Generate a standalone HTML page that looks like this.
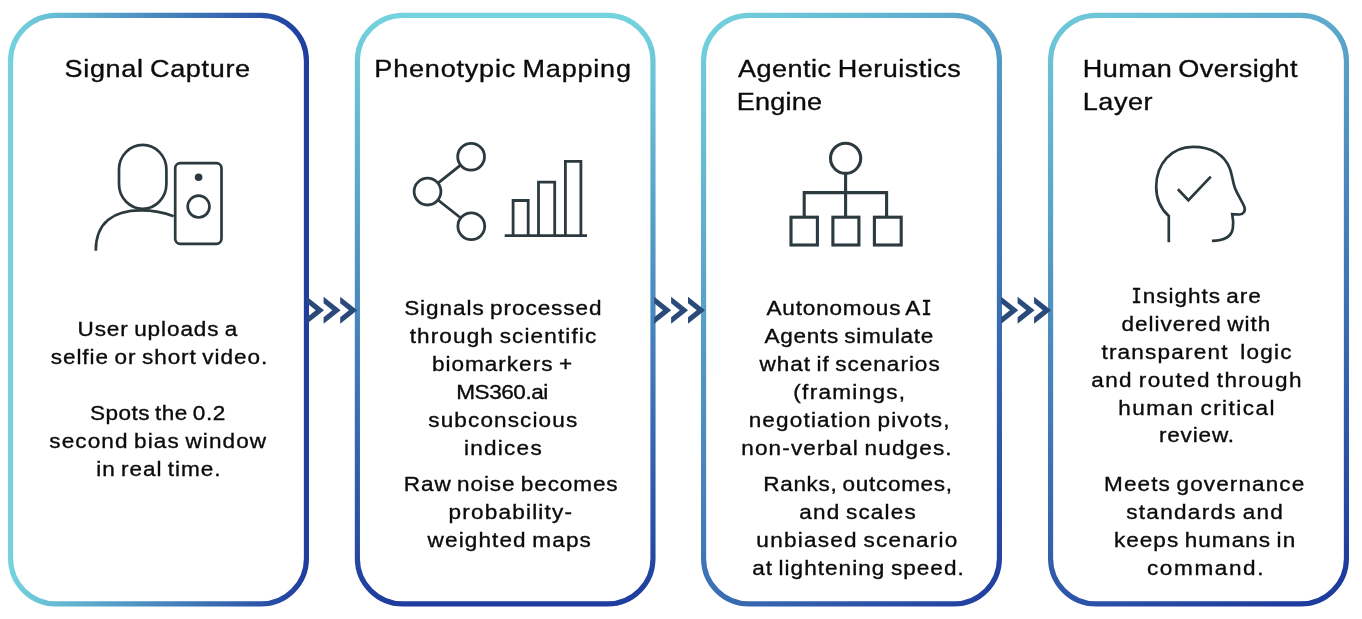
<!DOCTYPE html>
<html lang="en">
<head>
<meta charset="utf-8">
<title>Signal Capture to Human Oversight pipeline</title>
<style>
html,body{margin:0;padding:0;background:#fff;}
body{width:1362px;height:619px;position:relative;overflow:hidden;font-family:"Liberation Sans",sans-serif;color:#0b0b0b;}
svg{position:absolute;left:0;top:0;}
section,h2,p{display:block;margin:0;padding:0;font:inherit;}
#txt{position:absolute;left:0;top:0;width:1362px;height:619px;will-change:transform;}
.t,.b{position:absolute;left:0;top:0;white-space:pre;line-height:1;transform-origin:0 0;word-spacing:-1.6px;-webkit-text-stroke:0.35px #0b0b0b;}
.t{font-size:24.6px;}
.b{font-size:20.5px;}
i{font-style:normal;font-family:"Liberation Mono",monospace;display:inline-block;transform:scale(.75,1.09);transform-origin:0 16px;margin:0 -2.65px 0 -0.2px;-webkit-text-stroke:0.6px #0b0b0b;}
</style>
</head>
<body>
<svg width="1362" height="619" viewBox="0 0 1362 619" fill="none" stroke="#2c3a40" stroke-width="2.4" stroke-linecap="butt" stroke-linejoin="round">
<defs><linearGradient id="g0" gradientUnits="userSpaceOnUse" x1="8.00" y1="309.62" x2="309.00" y2="309.62"><stop offset="0" stop-color="#74d4de"/><stop offset="1" stop-color="#1e3c9e"/></linearGradient><linearGradient id="g1" gradientUnits="userSpaceOnUse" x1="505.17" y1="12.75" x2="505.18" y2="606.50"><stop offset="0" stop-color="#74d4de"/><stop offset="1" stop-color="#1e3c9e"/></linearGradient><linearGradient id="g2" gradientUnits="userSpaceOnUse" x1="627.81" y1="85.94" x2="1075.19" y2="533.31"><stop offset="0" stop-color="#74d4de"/><stop offset="1" stop-color="#1e3c9e"/></linearGradient><linearGradient id="g3" gradientUnits="userSpaceOnUse" x1="1014.05" y1="-9.86" x2="1346.40" y2="565.79"><stop offset="0" stop-color="#74d4de"/><stop offset="1" stop-color="#1e3c9e"/></linearGradient></defs>
<rect x="10.575" y="15.325" width="295.850" height="588.600" rx="45.425" fill="#fff" stroke="url(#g0)" stroke-width="5.15"/>
<rect x="357.375" y="15.325" width="295.600" height="588.600" rx="45.425" fill="#fff" stroke="url(#g1)" stroke-width="5.15"/>
<rect x="703.575" y="15.325" width="295.850" height="588.600" rx="45.425" fill="#fff" stroke="url(#g2)" stroke-width="5.15"/>
<rect x="1050.575" y="15.325" width="295.850" height="588.600" rx="45.425" fill="#fff" stroke="url(#g3)" stroke-width="5.15"/>

<!-- chevrons -->
<g fill="#2a4a7a" stroke="none">
  <path id="cv" d="M0 0 L17 13.55 L0 27.1 L0 20.6 L8.7 13.55 L0 6.5 Z" transform="translate(307,296.7)"/>
  <path d="M0 0 L17 13.55 L0 27.1 L0 20.6 L8.7 13.55 L0 6.5 Z" transform="translate(323.6,296.7)"/>
  <path d="M0 0 L17 13.55 L0 27.1 L0 20.6 L8.7 13.55 L0 6.5 Z" transform="translate(340.2,296.7)"/>
  <path d="M0 0 L17 13.55 L0 27.1 L0 20.6 L8.7 13.55 L0 6.5 Z" transform="translate(654.2,296.7)"/>
  <path d="M0 0 L17 13.55 L0 27.1 L0 20.6 L8.7 13.55 L0 6.5 Z" transform="translate(671.1,296.7)"/>
  <path d="M0 0 L17 13.55 L0 27.1 L0 20.6 L8.7 13.55 L0 6.5 Z" transform="translate(688,296.7)"/>
  <path d="M0 0 L17 13.55 L0 27.1 L0 20.6 L8.7 13.55 L0 6.5 Z" transform="translate(1001.2,296.7)"/>
  <path d="M0 0 L17 13.55 L0 27.1 L0 20.6 L8.7 13.55 L0 6.5 Z" transform="translate(1017.6,296.7)"/>
  <path d="M0 0 L17 13.55 L0 27.1 L0 20.6 L8.7 13.55 L0 6.5 Z" transform="translate(1034.1,296.7)"/>
</g>
<!-- icon 1: person + phone -->
<g stroke-width="2.7">
  <rect x="119" y="144.8" width="47.4" height="64" rx="23.7" ry="24.8"/>
  <path d="M95.8 250.7 C95.8 222 114 210.4 140.9 210.4 C153 210.4 164 212.5 173.6 216.2"/>
  <rect x="175.2" y="163.2" width="46.3" height="80.6" rx="5" ry="5"/>
  <circle cx="198.6" cy="177.2" r="3.8" fill="#2c3a40" stroke="none"/>
  <circle cx="198.6" cy="206.6" r="10.9"/>
</g>
<!-- icon 2: share + bars -->
<g stroke-width="2.8">
  <circle cx="471.1" cy="156.7" r="13.4"/>
  <circle cx="427.5" cy="191.6" r="13.4"/>
  <circle cx="471.3" cy="226.3" r="13.4"/>
  <path d="M460.6 165.1 L438 183.2 M438 200 L460.8 218"/>
  <path d="M504.7 235.6 H587" />
  <path d="M513.1 235.6 V200.5 H528.2 V235.6 M538.5 235.6 V182.1 H554.7 V235.6 M565.4 235.6 V161.3 H580.9 V235.6" stroke-linejoin="miter"/>
</g>
<!-- icon 3: org chart -->
<g stroke-width="3.1" stroke-linejoin="miter">
  <circle cx="845.6" cy="158.3" r="15.1"/>
  <path d="M845.6 173.4 V216 M804.2 216 V192.6 H886.6 V216"/>
  <rect x="791" y="217.2" width="26.4" height="27.8"/>
  <rect x="832.9" y="217.2" width="26" height="27.8"/>
  <rect x="874.4" y="217.2" width="26.8" height="27.8"/>
</g>
<!-- icon 4: head + check -->
<g stroke-width="2.7">
  <path d="M1168.8 242.3 V216.1 C1160.5 208.5 1156.2 198.5 1156.2 186.7 C1156.2 163.5 1171.5 146.8 1193 146.8 C1211 146.8 1224.5 154.5 1229.8 168.5 C1232.3 175 1232.5 181 1234.6 187 C1237 194 1241.5 200 1244.2 206.5 C1246 211 1243.5 214.3 1239.5 214.5 L1232.2 214.1 C1233.2 219 1233.5 224 1232.8 228.5 C1231.3 237.5 1223 240.8 1211.9 240.8" stroke-linejoin="miter"/>
  <path d="M1177.9 189.2 L1188.4 200.3 L1210.8 176.6" stroke-linejoin="miter"/>
</g>
</svg>
<main id="txt">
<section>
<h2><span class="t" style="transform:translate(64.54px,57px) scaleX(1.1);letter-spacing:0.583px">Signal Capture</span></h2>
<p><span class="b" style="transform:translate(77.50px,319px) scaleX(1.1);letter-spacing:0.822px">User uploads a</span>
<span class="b" style="transform:translate(50.68px,347px) scaleX(1.1);letter-spacing:0.866px">selfie or short video.</span></p>
<p><span class="b" style="transform:translate(89.88px,403px) scaleX(1.1);letter-spacing:0.450px">Spots the 0.2</span>
<span class="b" style="transform:translate(49.28px,431px) scaleX(1.1);letter-spacing:0.990px">second bias window</span>
<span class="b" style="transform:translate(96.20px,459px) scaleX(1.1);letter-spacing:0.848px">in real time.</span></p>
</section>
<section>
<h2><span class="t" style="transform:translate(374.37px,57px) scaleX(1.1);letter-spacing:0.708px">Phenotypic Mapping</span></h2>
<p><span class="b" style="transform:translate(404.15px,298px) scaleX(1.1);letter-spacing:0.845px">Signals processed</span>
<span class="b" style="transform:translate(409.67px,326px) scaleX(1.1);letter-spacing:1.024px">through scientific</span>
<span class="b" style="transform:translate(431.91px,354px) scaleX(1.1);letter-spacing:0.908px">biomarkers +</span>
<span class="b" style="transform:translate(456.24px,382px) scaleX(1.1);letter-spacing:-0.410px">MS360.ai</span>
<span class="b" style="transform:translate(428.28px,410px) scaleX(1.1);letter-spacing:1.015px">subconscious</span>
<span class="b" style="transform:translate(463.89px,438px) scaleX(1.1);letter-spacing:1.155px">indices</span></p>
<p><span class="b" style="transform:translate(403.86px,474px) scaleX(1.1);letter-spacing:0.808px">Raw noise becomes</span>
<span class="b" style="transform:translate(448.47px,502px) scaleX(1.1);letter-spacing:1.098px">probability-</span>
<span class="b" style="transform:translate(427.58px,530px) scaleX(1.1);letter-spacing:1.011px">weighted maps</span></p>
</section>
<section>
<h2><span class="t" style="transform:translate(737.92px,57px) scaleX(1.1);letter-spacing:0.428px">Agentic Heruistics</span><span class="t" style="transform:translate(736.74px,90px) scaleX(1.1);letter-spacing:0.199px">Engine</span></h2>
<p><span class="b" style="transform:translate(766.46px,298px) scaleX(1.1);letter-spacing:0.747px">Autonomous A<i>I</i></span>
<span class="b" style="transform:translate(764.46px,326px) scaleX(1.1);letter-spacing:0.654px">Agents simulate</span>
<span class="b" style="transform:translate(759.57px,354px) scaleX(1.1);letter-spacing:0.890px">what if scenarios</span>
<span class="b" style="transform:translate(793.32px,382px) scaleX(1.1);letter-spacing:1.166px">(framings,</span>
<span class="b" style="transform:translate(748.67px,410px) scaleX(1.1);letter-spacing:1.055px">negotiation pivots,</span>
<span class="b" style="transform:translate(741.29px,438px) scaleX(1.1);letter-spacing:1.013px">non-verbal nudges.</span></p>
<p><span class="b" style="transform:translate(763.24px,474px) scaleX(1.1);letter-spacing:0.610px">Ranks, outcomes,</span>
<span class="b" style="transform:translate(799.34px,502px) scaleX(1.1);letter-spacing:1.038px">and scales</span>
<span class="b" style="transform:translate(756.36px,530px) scaleX(1.1);letter-spacing:1.121px">unbiased scenario</span>
<span class="b" style="transform:translate(752.15px,558px) scaleX(1.1);letter-spacing:0.934px">at lightening speed.</span></p>
</section>
<section>
<h2><span class="t" style="transform:translate(1082.80px,57px) scaleX(1.1);letter-spacing:0.393px">Human Oversight</span><span class="t" style="transform:translate(1082.80px,90px) scaleX(1.1);letter-spacing:0.465px">Layer</span></h2>
<p><span class="b" style="transform:translate(1131.44px,286px) scaleX(1.1);letter-spacing:0.862px"><i>I</i>nsights are</span>
<span class="b" style="transform:translate(1121.59px,314px) scaleX(1.1);letter-spacing:0.881px">delivered with</span>
<span class="b" style="transform:translate(1101.41px,342px) scaleX(1.1);letter-spacing:1.102px">transparent&nbsp; logic</span>
<span class="b" style="transform:translate(1091.24px,370px) scaleX(1.1);letter-spacing:1.237px">and routed through</span>
<span class="b" style="transform:translate(1118.20px,398px) scaleX(1.1);letter-spacing:1.328px">human critical</span>
<span class="b" style="transform:translate(1158.89px,425px) scaleX(1.1);letter-spacing:0.756px">review.</span></p>
<p><span class="b" style="transform:translate(1104.08px,474px) scaleX(1.1);letter-spacing:0.992px">Meets governance</span>
<span class="b" style="transform:translate(1126.18px,502px) scaleX(1.1);letter-spacing:1.175px">standards and</span>
<span class="b" style="transform:translate(1113.89px,530px) scaleX(1.1);letter-spacing:0.931px">keeps humans in</span>
<span class="b" style="transform:translate(1146.94px,558px) scaleX(1.1);letter-spacing:1.469px">command.</span></p>
</section>
</main>
</body>
</html>
